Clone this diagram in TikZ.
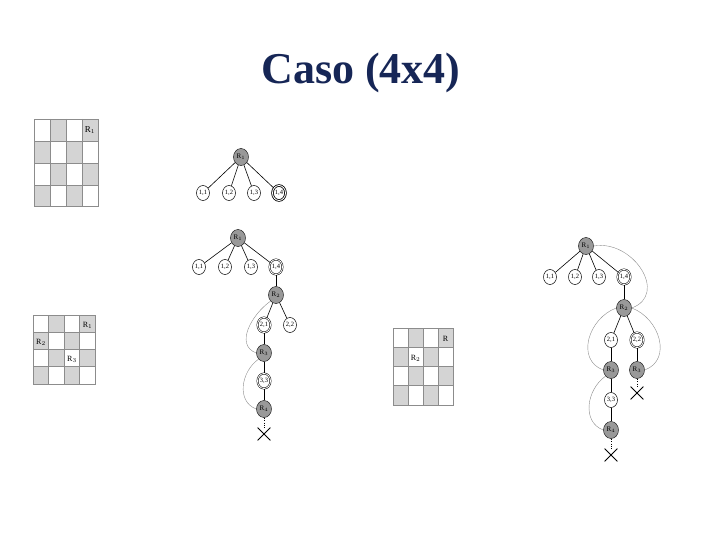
\documentclass[tikz,border=0pt]{standalone}
\usepackage{fontspec}
\setmainfont{Liberation Serif}
\usetikzlibrary{shapes.geometric, shapes.misc}
\definecolor{titleblue}{RGB}{22,38,86}

\begin{document}
\begin{tikzpicture}[x=1pt,y=-1pt,
  cell/.style={draw=black!45, line width=0.7pt},
  leaf/.style={draw, ellipse, minimum width=13, minimum height=15, inner sep=0pt, line width=0.5pt, font=\fontsize{6.5}{7}\selectfont},
  sel/.style={leaf, double, double distance=0.9pt},
  root/.style={draw, ellipse, fill=black!40, minimum width=15, minimum height=17, inner sep=0pt, font=\fontsize{7}{8}\selectfont},
  edge/.style={line width=0.6pt},
  back/.style={draw=black!45, line width=0.4pt},
  fail/.style={draw, cross out, line width=0.8pt, minimum width=12, minimum height=12, inner sep=0pt}]
\useasboundingbox (0,0) rectangle (720,540);
% title
\node (title) at (361,73) [font=\fontsize{44}{50}\selectfont\bfseries, text=titleblue] {Caso (4x4)};

% board 1
\fill [black!17] (50,119) rectangle (66,141);
\fill [black!17] (82,119) rectangle (98,141);
\fill [black!17] (34,141) rectangle (50,163);
\fill [black!17] (66,141) rectangle (82,163);
\fill [black!17] (50,163) rectangle (66,185);
\fill [black!17] (82,163) rectangle (98,185);
\fill [black!17] (34,185) rectangle (50,206);
\fill [black!17] (66,185) rectangle (82,206);
\draw [cell] (34,119) rectangle (98,206);
\draw [cell] (50,119) -- (50,206);
\draw [cell] (66,119) -- (66,206);
\draw [cell] (82,119) -- (82,206);
\draw [cell] (34,141) -- (98,141);
\draw [cell] (34,163) -- (98,163);
\draw [cell] (34,185) -- (98,185);
\node (b1r1) at (90,130) [font=\fontsize{9}{10}\selectfont] {R$_1$};

% board 2
\fill [black!17] (48.5,315) rectangle (64,332.25);
\fill [black!17] (79.5,315) rectangle (95,332.25);
\fill [black!17] (33,332.25) rectangle (48.5,349.5);
\fill [black!17] (64,332.25) rectangle (79.5,349.5);
\fill [black!17] (48.5,349.5) rectangle (64,366.75);
\fill [black!17] (79.5,349.5) rectangle (95,366.75);
\fill [black!17] (33,366.75) rectangle (48.5,384);
\fill [black!17] (64,366.75) rectangle (79.5,384);
\draw [cell] (33,315) rectangle (95,384);
\draw [cell] (48.5,315) -- (48.5,384);
\draw [cell] (64,315) -- (64,384);
\draw [cell] (79.5,315) -- (79.5,384);
\draw [cell] (33,332.25) -- (95,332.25);
\draw [cell] (33,349.5) -- (95,349.5);
\draw [cell] (33,366.75) -- (95,366.75);
\node (b2r1) at (87.5,325) [font=\fontsize{8}{9}\selectfont] {R$_1$};
\node (b2r2) at (41,342) [font=\fontsize{8}{9}\selectfont] {R$_2$};
\node (b2r3) at (72,359) [font=\fontsize{8}{9}\selectfont] {R$_3$};

% board 3
\fill [black!17] (408,328) rectangle (423,347.25);
\fill [black!17] (438,328) rectangle (453,347.25);
\fill [black!17] (393,347.25) rectangle (408,366.5);
\fill [black!17] (423,347.25) rectangle (438,366.5);
\fill [black!17] (408,366.5) rectangle (423,385.75);
\fill [black!17] (438,366.5) rectangle (453,385.75);
\fill [black!17] (393,385.75) rectangle (408,405);
\fill [black!17] (423,385.75) rectangle (438,405);
\draw [cell] (393,328) rectangle (453,405);
\draw [cell] (408,328) -- (408,405);
\draw [cell] (423,328) -- (423,405);
\draw [cell] (438,328) -- (438,405);
\draw [cell] (393,347.25) -- (453,347.25);
\draw [cell] (393,366.5) -- (453,366.5);
\draw [cell] (393,385.75) -- (453,385.75);
\node (b3r1) at (445.5,339) [font=\fontsize{8}{9}\selectfont] {R};
\node (b3r2) at (415.5,358) [font=\fontsize{8}{9}\selectfont] {R$_2$};

% tree 1
\node (ta) at (241,157) [root] {R$_1$};
\node (ta11) at (203,193) [leaf] {1,1};
\node (ta12) at (229,193) [leaf] {1,2};
\node (ta13) at (254,193) [leaf] {1,3};
\node (ta14) at (279,193) [sel, line width=0.8pt] {1,4};
\draw [edge] (ta) -- (ta11);
\draw [edge] (ta) -- (ta12);
\draw [edge] (ta) -- (ta13);
\draw [edge] (ta) -- (ta14);

% tree 2
\node (tb) at (238,238) [root] {R$_1$};
\node (tb11) at (199,267) [leaf] {1,1};
\node (tb12) at (225,267) [leaf] {1,2};
\node (tb13) at (251,267) [leaf] {1,3};
\node (tb14) at (276,267) [sel] {1,4};
\node (tbr2) at (276,295) [root] {R$_2$};
\node (tb21) at (264,325) [sel] {2,1};
\node (tb22) at (290,325) [leaf] {2,2};
\node (tbr3) at (264,353) [root] {R$_3$};
\node (tb33) at (264,381) [sel] {3,3};
\node (tbr4) at (264,409) [root] {R$_4$};
\node (tbx) at (264,434) [fail] {};
\draw [edge] (tb) -- (tb11);
\draw [edge] (tb) -- (tb12);
\draw [edge] (tb) -- (tb13);
\draw [edge] (tb) -- (tb14);
\draw [edge] (tb14) -- (tbr2);
\draw [edge] (tbr2) -- (tb21);
\draw [edge] (tbr2) -- (tb22);
\draw [edge] (tb21) -- (tbr3);
\draw [edge] (tbr3) -- (tb33);
\draw [edge] (tb33) -- (tbr4);
\draw [dotted] (tbr4) -- (tbx);
\draw [back] (tbr2.south west) to [out=215, in=160, looseness=1.1] (tbr3.west);
\draw [back] (tbr3.south west) to [out=215, in=160, looseness=1.1] (tbr4.west);

% tree 3
\node (tc) at (586,246) [root] {R$_1$};
\node (tc11) at (550,277) [leaf] {1,1};
\node (tc12) at (575,277) [leaf] {1,2};
\node (tc13) at (599,277) [leaf] {1,3};
\node (tc14) at (624,277) [sel] {1,4};
\node (tcr2) at (624,308) [root] {R$_2$};
\node (tc21) at (611,340) [leaf] {2,1};
\node (tc22) at (637,340) [sel] {2,2};
\node (tcr3) at (611,370) [root] {R$_3$};
\node (tcr3b) at (637,370) [root] {R$_3$};
\node (tc33) at (611,400) [leaf] {3,3};
\node (tcr4) at (611,430) [root] {R$_4$};
\node (tcx) at (637,393) [fail] {};
\node (tcy) at (611,455) [fail] {};
\draw [edge] (tc) -- (tc11);
\draw [edge] (tc) -- (tc12);
\draw [edge] (tc) -- (tc13);
\draw [edge] (tc) -- (tc14);
\draw [edge] (tc14) -- (tcr2);
\draw [edge] (tcr2) -- (tc21);
\draw [edge] (tcr2) -- (tc22);
\draw [edge] (tc21) -- (tcr3);
\draw [edge] (tc22) -- (tcr3b);
\draw [edge] (tcr3) -- (tc33);
\draw [edge] (tc33) -- (tcr4);
\draw [dotted] (tcr3b) -- (tcx);
\draw [dotted] (tcr4) -- (tcy);
\draw [back] (tc.east) to [out=10, in=20, looseness=1.4] (tcr2.east);
\draw [back] (tcr2.west) to [out=200, in=160, looseness=1.2] (tcr3.west);
\draw [back] (tcr2.east) to [out=-20, in=20, looseness=1.2] (tcr3b.east);
\draw [back] (tcr3.south west) to [out=215, in=160, looseness=1.1] (tcr4.west);
\end{tikzpicture}
\end{document}
